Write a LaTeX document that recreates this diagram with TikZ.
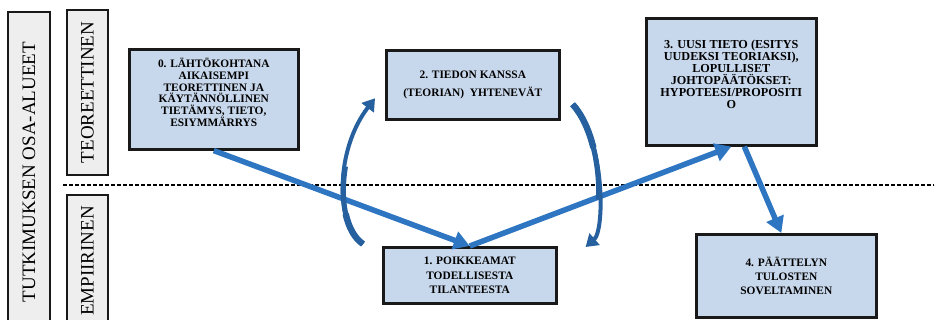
\documentclass[tikz,border=0pt]{standalone}
\usepackage{fontspec}
\setmainfont{Liberation Serif}
\usetikzlibrary{arrows.meta,calc}
\definecolor{boxfill}{RGB}{200,216,236}
\definecolor{sidefill}{RGB}{238,238,238}
\definecolor{flowblue}{RGB}{46,117,194}
\definecolor{loopblue}{RGB}{38,96,158}
% bold stage text: #1 size, #2 line spacing
\newcommand{\stagefont}[2]{\bfseries\fontsize{#1}{#2}\selectfont}
% thicker stroke over the part [0,t] of a cubic curve (de Casteljau split)
% #1..#4: curve points, #5: t, #6: line width
\newcommand{\taperseg}[6]{%
  \coordinate (tA) at ($(#1)!#5!(#2)$);
  \coordinate (tB) at ($(#2)!#5!(#3)$);
  \coordinate (tC) at ($(#3)!#5!(#4)$);
  \coordinate (tD) at ($(tA)!#5!(tB)$);
  \coordinate (tE) at ($(tB)!#5!(tC)$);
  \coordinate (tF) at ($(tD)!#5!(tE)$);
  \draw[looptail=#6] (#1) .. controls (tA) and (tD) .. (tF);
}
\begin{document}
\begin{tikzpicture}[x=1pt,y=-1pt,
  stagebox/.style={draw=black!90, line width=2.6pt, fill=boxfill, anchor=north west,
    inner sep=0pt, align=center},
  stagetext/.style={inner sep=0pt, align=center},
  areabox/.style={draw=black!90, line width=2pt, fill=sidefill, rotate=90,
    inner sep=0pt, font=\fontsize{19}{22}\selectfont},
  flow/.style={flowblue, line width=5.5pt, -{Triangle[width=18pt,length=16pt]}},
  loopback/.style={loopblue, line width=4pt, -{Triangle[width=15pt,length=12pt]}},
  looptail/.style={loopblue, line width=#1},
  divider/.style={black, line width=1.5pt, dash pattern=on 4pt off 2pt}
]
\useasboundingbox (0,0) rectangle (934,320);

% side labels
\node[areabox, minimum width=320pt, minimum height=42pt] (area) at (29,172) {TUTKIMUKSEN OSA-ALUEET};
\node[areabox, minimum width=165pt, minimum height=41pt] (theory) at (87.5,92.5) {TEOREETTINEN};
\node[areabox, minimum width=132pt, minimum height=41pt] (empiric) at (87.5,261) {EMPIIRINEN};

% border between theory and practice
\coordinate (dl) at (63,185);
\coordinate (dr) at (934,185);
\draw[divider] (dl) -- (dr);

% stages
\node[stagebox, minimum width=169pt, minimum height=100pt] (b0) at (128,48) {};
\node[stagetext, font=\stagefont{11.4}{11.7}] (t0) at ($(b0.center)+(0,-7)$) {0. LÄHTÖKOHTANA\\AIKAISEMPI\\TEORETTINEN JA\\KÄYTÄNNÖLLINEN\\TIETÄMYS, TIETO,\\ESIYMMÄRRYS};

\node[stagebox, minimum width=173pt, minimum height=69pt, font=\stagefont{11.4}{18}] (b2) at (385,49) {2. TIEDON KANSSA\\(TEORIAN)\ \ YHTENEVÄT};

\node[stagebox, minimum width=170pt, minimum height=127pt] (b3) at (645,17) {};
\node[stagetext, font=\stagefont{12.2}{12}] (t3) at ($(b3.center)+(0,-7)$) {3. UUSI TIETO (ESITYS\\UUDEKSI TEORIAKSI),\\LOPULLISET\\JOHTOPÄÄTÖKSET:\\HYPOTEESI/PROPOSITI\\O};

\node[stagebox, minimum width=173pt, minimum height=56pt, font=\stagefont{11.4}{14.5}] (b1) at (382,246) {1. POIKKEAMAT\\TODELLISESTA\\TILANTEESTA};

\node[stagebox, minimum width=180pt, minimum height=83pt, font=\stagefont{11.4}{14}] (b4) at (695,233) {4. PÄÄTTELYN\\TULOSTEN\\SOVELTAMINEN};

% flow between stages
\draw[flow] (b0.south) -- (b1.north);
\draw[flow] (b1.north) -- (b3.south);
\draw[flow] ($(b3.south)+(13,0)$) -- ($(b4.north)+(-5,0)$);

% loops between deviations and theory, thicker towards their tails
\coordinate (l0) at ($(b1.north west)+(-19,-2)$);
\coordinate (l1) at ($(b2.west)+(-10,13.5)$);
\coordinate (lc1) at (335,225);
\coordinate (lc2) at (335,150);
\coordinate (r0) at ($(b2.east)+(12,19.5)$);
\coordinate (r1) at ($(b1.north east)+(28,1)$);
\coordinate (rc1) at (605,140);
\coordinate (rc2) at (605,230);
\taperseg{l0}{lc1}{lc2}{l1}{0.6}{5.2pt}
\taperseg{l0}{lc1}{lc2}{l1}{0.3}{6.4pt}
\taperseg{r0}{rc1}{rc2}{r1}{0.6}{5.2pt}
\taperseg{r0}{rc1}{rc2}{r1}{0.3}{6.4pt}
\draw[loopback] (l0) .. controls (lc1) and (lc2) .. (l1);
\draw[loopback] (r0) .. controls (rc1) and (rc2) .. (r1);
\end{tikzpicture}
\end{document}
